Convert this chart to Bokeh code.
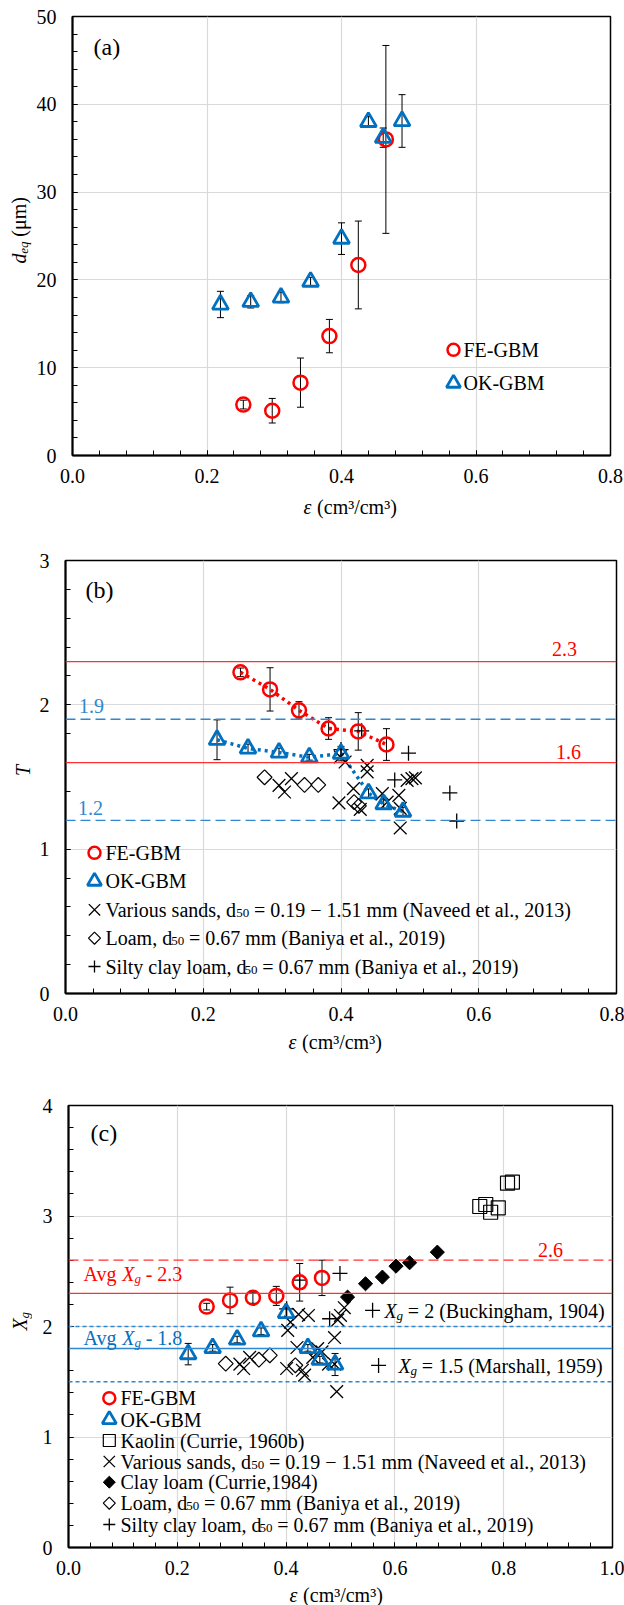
import math
from bokeh.plotting import figure
from bokeh.layouts import column, row
from bokeh.models import (Range1d, SingleIntervalTicker, NumeralTickFormatter, Label, Span,
                          Whisker, TeeHead, ColumnDataSource)
from bokeh.embed import file_html
from bokeh.resources import INLINE

# ---------------- data ----------------
fe_eps = [0.254, 0.297, 0.339, 0.382, 0.425, 0.466]
ok_eps = [0.220, 0.265, 0.310, 0.354, 0.400, 0.440, 0.462, 0.490]

# (a) equivalent diameter
fe_deq = [5.8, 5.1, 8.3, 13.6, 21.7, 36.0]
fe_deq_err = [0.5, 1.4, 2.8, 1.9, 5.0, 10.7]
ok_deq = [17.2, 17.5, 18.0, 19.8, 24.7, 38.0, 36.2, 38.1]
ok_deq_err = [1.5, 0.7, 0.6, 0.5, 1.8, 0.6, 1.1, 3.0]

# (b) tortuosity
fe_t = [2.225, 2.107, 1.962, 1.836, 1.816, 1.725]
fe_t_err = [0.03, 0.15, 0.06, 0.075, 0.13, 0.11]
ok_t = [1.758, 1.698, 1.670, 1.637, 1.662, 1.388, 1.312, 1.260]
ok_t_err = [0.138, 0.03, 0.03, 0.02, 0.05, 0.03, 0.03, 0.03]
sands_b_eps = [0.310, 0.318, 0.328, 0.397, 0.399, 0.406, 0.418, 0.428, 0.438, 0.438,
               0.460, 0.467, 0.484, 0.486, 0.486, 0.496, 0.503, 0.508]
sands_b_t = [1.442, 1.396, 1.489, 1.321, 1.639, 1.604, 1.419, 1.276, 1.581, 1.535,
             1.385, 1.326, 1.373, 1.147, 1.283, 1.477, 1.489, 1.494]
loam_b_eps = [0.289, 0.347, 0.367, 0.419, 0.426]
loam_b_t = [1.498, 1.445, 1.445, 1.326, 1.300]
silty_b_eps = [0.400, 0.430, 0.478, 0.498, 0.558, 0.568]
silty_b_t = [1.690, 1.820, 1.480, 1.665, 1.390, 1.195]
t_lines_fe = [2.3, 1.6]
t_lines_ok = [1.9, 1.2]

# (c) geometric factor X_g
fe_xg = [2.180, 2.236, 2.260, 2.277, 2.400, 2.440]
fe_xg_err = [0.03, 0.12, 0.05, 0.086, 0.17, 0.16]
ok_xg = [1.750, 1.806, 1.882, 1.957, 2.123, 1.806, 1.700, 1.656]
ok_xg_err = [0.097, 0.03, 0.03, 0.03, 0.05, 0.03, 0.03, 0.10]
kaolin_eps = [0.756, 0.767, 0.776, 0.790, 0.807, 0.816]
kaolin_xg = [3.086, 3.104, 3.034, 3.074, 3.297, 3.306]
sands_c_eps = [0.315, 0.322, 0.333, 0.401, 0.403, 0.408, 0.420, 0.423, 0.430, 0.434,
               0.441, 0.449, 0.458, 0.466, 0.478, 0.489, 0.489, 0.493, 0.495, 0.500, 0.507]
sands_c_xg = [1.660, 1.620, 1.720, 1.620, 1.965, 2.040, 1.810, 2.110, 1.604, 1.560,
              2.100, 1.720, 1.800, 1.770, 1.660, 1.900, 1.660, 1.410, 2.060, 2.100, 2.170]
clay_loam_eps = [0.513, 0.546, 0.577, 0.602, 0.627, 0.678]
clay_loam_xg = [2.266, 2.387, 2.447, 2.546, 2.577, 2.673]
loam_c_eps = [0.289, 0.350, 0.370, 0.417]
loam_c_xg = [1.664, 1.700, 1.739, 1.649]
silty_c_eps = [0.401, 0.425, 0.480, 0.499, 0.559, 0.570]
silty_c_xg = [2.160, 2.420, 2.070, 2.480, 2.146, 1.648]
xg_avg_fe, xg_max_fe = 2.3, 2.6
xg_avg_ok = 1.8
xg_buckingham, xg_marshall = 2.0, 1.5

legend_basic = ["FE-GBM", "OK-GBM"]

# ---------------- styling helpers ----------------
FONT = "Liberation Serif"
RED = "#ff0000"
BLUE = "#0070c0"
LRED = "#ff3030"
LBLUE = "#2f86d1"

W_REG = {' ': 250, '(': 333, ')': 333, ',': 250, '-': 333, '.': 250, '/': 278, '=': 564,
         '−': 564, 'A': 722, 'B': 667, 'C': 667, 'D': 722, 'E': 611, 'F': 556, 'G': 722,
         'K': 722, 'L': 611, 'M': 889, 'N': 722, 'O': 722, 'S': 556, 'T': 611, 'V': 722,
         'X': 722, 'a': 444, 'b': 500, 'c': 444, 'd': 500, 'e': 444, 'g': 500, 'h': 500,
         'i': 278, 'k': 500, 'l': 278, 'm': 778, 'n': 500, 'o': 500, 'q': 500, 'r': 333,
         's': 389, 't': 278, 'u': 500, 'v': 500, 'y': 500, '³': 300, 'μ': 500}
W_IT = {'X': 611, 'g': 500, 'd': 500, 'e': 444, 'q': 500, 'T': 556, 'ε': 440}


def tw(s, size, italic=False):
    tab = W_IT if italic else W_REG
    return 0.985 * sum(tab.get(ch, W_REG.get(ch, 500)) for ch in s) / 1000.0 * size


def no_align(p):
    try:
        p.frame_align = False
    except Exception:
        pass


class Canvas:
    """Helper that places text by page pixel position (origin top-left of page)."""

    def d(self, px, py):
        raise NotImplementedError

    def label(self, px, py, text, size=20, color="black", italic=False,
              align="left", baseline="middle", angle=0.0):
        x, y = self.d(px, py)
        self.p.add_layout(Label(x=x, y=y, text=text, text_font=FONT,
                                text_font_size=f"{size}px",
                                text_font_style="italic" if italic else "normal",
                                text_color=color, text_align=align,
                                text_baseline=baseline, angle=angle))

    def rich(self, px, py, pieces, color="black", vertical=False):
        adv = 0.0
        for text, size, italic, shift in pieces:
            stripped = text.lstrip(" ")
            lead = tw(text[:len(text) - len(stripped)], size, italic)
            if vertical:
                self.label(px + shift, py - adv - lead, stripped, size, color, italic,
                           angle=math.pi / 2)
            else:
                self.label(px + adv + lead, py + shift, stripped, size, color, italic)
            adv += tw(text, size, italic)


class Aux(Canvas):
    def __init__(self, gx, gy, w, h):
        p = figure(width=w, height=h, x_range=Range1d(gx, gx + w), y_range=Range1d(gy + h, gy),
                   min_border=0, min_border_left=0, min_border_right=0, min_border_top=0,
                   min_border_bottom=0, x_axis_type=None, y_axis_type=None, title=None,
                   output_backend="svg", toolbar_location=None)
        p.outline_line_color = None
        p.background_fill_color = "white"
        p.border_fill_color = "white"
        no_align(p)
        self.p = p

    def d(self, px, py):
        return px, py


class Panel(Canvas):
    def __init__(self, gx, gy, L, T, W, H, R, B, xr, yr, xstep, ystep, xfmt):
        self.gx, self.gy = gx, gy
        self.L, self.T, self.W, self.H = L, T, W, H
        self.xr, self.yr = xr, yr
        p = figure(frame_width=W, frame_height=H, min_border_left=L, min_border_right=R,
                   min_border_top=T, min_border_bottom=B, title=None,
                   x_range=Range1d(*xr), y_range=Range1d(*yr),
                   output_backend="svg", toolbar_location=None)
        no_align(p)
        p.background_fill_color = "white"
        p.border_fill_color = "white"
        p.outline_line_color = "black"
        p.outline_line_width = 1.5
        p.xaxis.ticker = SingleIntervalTicker(interval=xstep, num_minor_ticks=5)
        p.yaxis.ticker = SingleIntervalTicker(interval=ystep, num_minor_ticks=5)
        p.xaxis.formatter = NumeralTickFormatter(format=xfmt)
        for ax in (p.xaxis[0], p.yaxis[0]):
            ax.axis_line_width = 2
            ax.axis_line_color = "black"
            ax.major_tick_in = 5
            ax.major_tick_out = 0
            ax.minor_tick_in = 5
            ax.minor_tick_out = 0
            ax.major_tick_line_color = "black"
            ax.minor_tick_line_color = "black"
            ax.major_label_text_font = FONT
            ax.major_label_text_font_size = "20px"
            ax.major_label_text_color = "black"
        p.yaxis.major_label_standoff = 16
        p.xaxis.major_label_standoff = 13
        for g in (p.xgrid[0], p.ygrid[0]):
            g.grid_line_color = "#d9d9d9"
            g.grid_line_width = 1.2
        self.p = p

    def d(self, px, py):
        lx, ly = px - self.gx, py - self.gy
        x0, x1 = self.xr
        y0, y1 = self.yr
        x = x0 + (lx - self.L) / self.W * (x1 - x0)
        y = y0 + (self.T + self.H - ly) / self.H * (y1 - y0)
        return x, y

    def key(self, px, py, **kw):
        x, y = self.d(px, py)
        self.p.scatter([x], [y], **kw)

    def errbars(self, xs, ys, es):
        src = ColumnDataSource(dict(x=xs, u=[a + b for a, b in zip(ys, es)],
                                    l=[a - b for a, b in zip(ys, es)]))
        self.p.add_layout(Whisker(source=src, base="x", upper="u", lower="l",
                                  line_color="black", line_width=1,
                                  upper_head=TeeHead(size=7, line_color="black", line_width=1),
                                  lower_head=TeeHead(size=7, line_color="black", line_width=1)))


FE_STYLE = dict(marker="circle", fill_color=None, line_color=RED, line_width=2.5)
OK_STYLE = dict(marker="triangle", fill_color=None, line_color=BLUE, line_width=2.8)
SAND_STYLE = dict(marker="x", line_color="black", line_width=1.3)
LOAM_STYLE = dict(marker="square", angle=math.pi / 4, fill_color=None, line_color="black", line_width=1.2)
SILTY_STYLE = dict(marker="cross", line_color="black", line_width=1.3)
CLAY_STYLE = dict(marker="square", angle=math.pi / 4, fill_color="black", line_color="black", line_width=1)
KAOLIN_STYLE = dict(marker="square", fill_color=None, line_color="black", line_width=1.2)

sub50 = "50"


def legend_rows(pn, mx, tx, rows, entries):
    for py, (style, msize, pieces) in zip(rows, entries):
        pn.key(mx, py, size=msize, **style)
        pn.rich(tx, py, pieces)


def dpieces(prefix, suffix):
    return [(prefix, 20, False, 0), (sub50, 13, False, 3), (suffix, 20, False, 0)]


SANDS_LBL = dpieces("Various sands, d", " = 0.19 − 1.51 mm (Naveed et al., 2013)")
LOAM_LBL = dpieces("Loam, d", " = 0.67 mm (Baniya et al., 2019)")
SILTY_LBL = dpieces("Silty clay loam, d", " = 0.67 mm (Baniya et al., 2019)")
EPS_LBL = [("ε", 20, True, 0), (" (cm³/cm³)", 20, False, 0)]

YL_W = 32  # width of the page strip that holds the y-axis titles

# ---------------- panel (a) ----------------
A = Panel(YL_W, 0, 40, 16, 538, 439, 14, 40, (0, 0.8), (0, 50), 0.2, 10, "0.0")
A.errbars(fe_eps, fe_deq, fe_deq_err)
A.errbars(ok_eps, ok_deq, ok_deq_err)
A.p.scatter(fe_eps, fe_deq, size=14, **FE_STYLE)
A.p.scatter(ok_eps, ok_deq, size=16, **OK_STYLE)
A.label(93, 46.7, "(a)", size=24)
legend_rows(A, 453, 463, [349.3, 382.7],
            [(FE_STYLE, 12, [(legend_basic[0], 20, False, 0)]),
             (OK_STYLE, 14, [(legend_basic[1], 20, False, 0)])])
XA = Aux(YL_W, 495, 592, 45)
XA.rich(303, 506, EPS_LBL)

# ---------------- panel (b) ----------------
B = Panel(YL_W, 540, 33, 20, 551, 433, 8, 35, (0, 0.8), (0, 3), 0.2, 1, "0.0")
for v in t_lines_fe:
    B.p.add_layout(Span(location=v, dimension="width", line_color=LRED, line_width=1.3))
for v in t_lines_ok:
    B.p.add_layout(Span(location=v, dimension="width", line_color=LBLUE, line_width=1.3,
                        line_dash="10 5"))
B.p.line(fe_eps, fe_t, line_color=RED, line_width=3.5, line_dash="3 4")
B.p.line(ok_eps, ok_t, line_color=BLUE, line_width=3.5, line_dash="3 4")
B.errbars(fe_eps, fe_t, fe_t_err)
B.errbars(ok_eps, ok_t, ok_t_err)
B.p.scatter(loam_b_eps, loam_b_t, size=10.5, **LOAM_STYLE)
B.p.scatter(sands_b_eps, sands_b_t, size=18, **SAND_STYLE)
B.p.scatter(silty_b_eps, silty_b_t, size=15, **SILTY_STYLE)
B.p.scatter(fe_eps, fe_t, size=14, **FE_STYLE)
B.p.scatter(ok_eps, ok_t, size=16, **OK_STYLE)
B.label(85, 589.3, "(b)", size=24)
B.label(564, 648.3, f"{t_lines_fe[0]}", color=RED, align="center")
B.label(568, 751, f"{t_lines_fe[1]}", color=RED, align="center")
B.label(91, 705, f"{t_lines_ok[0]}", color=LBLUE, align="center")
B.label(90, 807.3, f"{t_lines_ok[1]}", color=LBLUE, align="center")
legend_rows(B, 94, 105, [852.3, 880.7, 909.3, 937.7, 966],
            [(FE_STYLE, 12, [(legend_basic[0], 20, False, 0)]),
             (OK_STYLE, 14, [(legend_basic[1], 20, False, 0)]),
             (SAND_STYLE, 16, SANDS_LBL),
             (LOAM_STYLE, 8.5, LOAM_LBL),
             (SILTY_STYLE, 12, SILTY_LBL)])
XB = Aux(YL_W, 1028, 592, 57)
XB.rich(288, 1041, EPS_LBL)

# ---------------- panel (c) ----------------
C = Panel(YL_W, 1085, 36, 20, 544, 442, 12, 33, (0, 1.0), (0, 4), 0.2, 1, "0.0")
C.p.add_layout(Span(location=xg_max_fe, dimension="width", line_color=LRED, line_width=1.3,
                    line_dash="10 5"))
C.p.add_layout(Span(location=xg_avg_fe, dimension="width", line_color=LRED, line_width=1.3))
C.p.add_layout(Span(location=xg_buckingham, dimension="width", line_color=LBLUE, line_width=1.3,
                    line_dash="4 3"))
C.p.add_layout(Span(location=xg_avg_ok, dimension="width", line_color=LBLUE, line_width=1.5))
C.p.add_layout(Span(location=xg_marshall, dimension="width", line_color=LBLUE, line_width=1.3,
                    line_dash="4 3"))
C.errbars(fe_eps, fe_xg, fe_xg_err)
C.errbars(ok_eps, ok_xg, ok_xg_err)
C.p.scatter(kaolin_eps, kaolin_xg, size=14, **KAOLIN_STYLE)
C.p.scatter(loam_c_eps, loam_c_xg, size=10.5, **LOAM_STYLE)
C.p.scatter(sands_c_eps, sands_c_xg, size=18, **SAND_STYLE)
C.p.scatter(clay_loam_eps, clay_loam_xg, size=10, **CLAY_STYLE)
C.p.scatter(silty_c_eps, silty_c_xg, size=15, **SILTY_STYLE)
C.p.scatter(fe_eps, fe_xg, size=14, **FE_STYLE)
C.p.scatter(ok_eps, ok_xg, size=16, **OK_STYLE)
C.label(90, 1132, "(c)", size=24)
C.label(550, 1249.3, f"{xg_max_fe}", color=RED, align="center")
C.rich(83, 1273.3, [("Avg ", 20, False, 0), ("X", 20, True, 0), ("g", 13, True, 5),
                    (f" - {xg_avg_fe}", 20, False, 0)], color=RED)
C.rich(83, 1337.3, [("Avg ", 20, False, 0), ("X", 20, True, 0), ("g", 13, True, 5),
                    (f" - {xg_avg_ok}", 20, False, 0)], color=BLUE)
C.rich(384, 1310, [("X", 20, True, 0), ("g", 13, True, 5),
                   (f" = {xg_buckingham:g} (Buckingham, 1904)", 20, False, 0)])
C.rich(398, 1365, [("X", 20, True, 0), ("g", 13, True, 5),
                   (f" = {xg_marshall:g} (Marshall, 1959)", 20, False, 0)])
legend_rows(C, 108.8, 120, [1397.7, 1419, 1440, 1461, 1481.7, 1502.7, 1524],
            [(FE_STYLE, 12, [(legend_basic[0], 20, False, 0)]),
             (OK_STYLE, 14, [(legend_basic[1], 20, False, 0)]),
             (KAOLIN_STYLE, 12, [("Kaolin (Currie, 1960b)", 20, False, 0)]),
             (SAND_STYLE, 16, SANDS_LBL),
             (CLAY_STYLE, 8.5, [("Clay loam (Currie,1984)", 20, False, 0)]),
             (LOAM_STYLE, 8.5, LOAM_LBL),
             (SILTY_STYLE, 12, SILTY_LBL)])
XC = Aux(YL_W, 1580, 592, 25)
XC.rich(289, 1594, EPS_LBL)

# ---------------- y-axis titles strip ----------------
YL = Aux(0, 0, YL_W, 1605)
YL.rich(18, 263, [("d", 20, True, 0), ("eq", 13, True, 5), (" (μm)", 20, False, 0)], vertical=True)
YL.label(22, 770, "T", size=20, italic=True, align="center", angle=math.pi / 2)
YL.rich(19, 1330, [("X", 20, True, 0), ("g", 13, True, 5)], vertical=True)

layout = row(YL.p, column(A.p, XA.p, B.p, XB.p, C.p, XC.p, spacing=0), spacing=0)
open("out.html", "w").write(file_html(layout, INLINE))
